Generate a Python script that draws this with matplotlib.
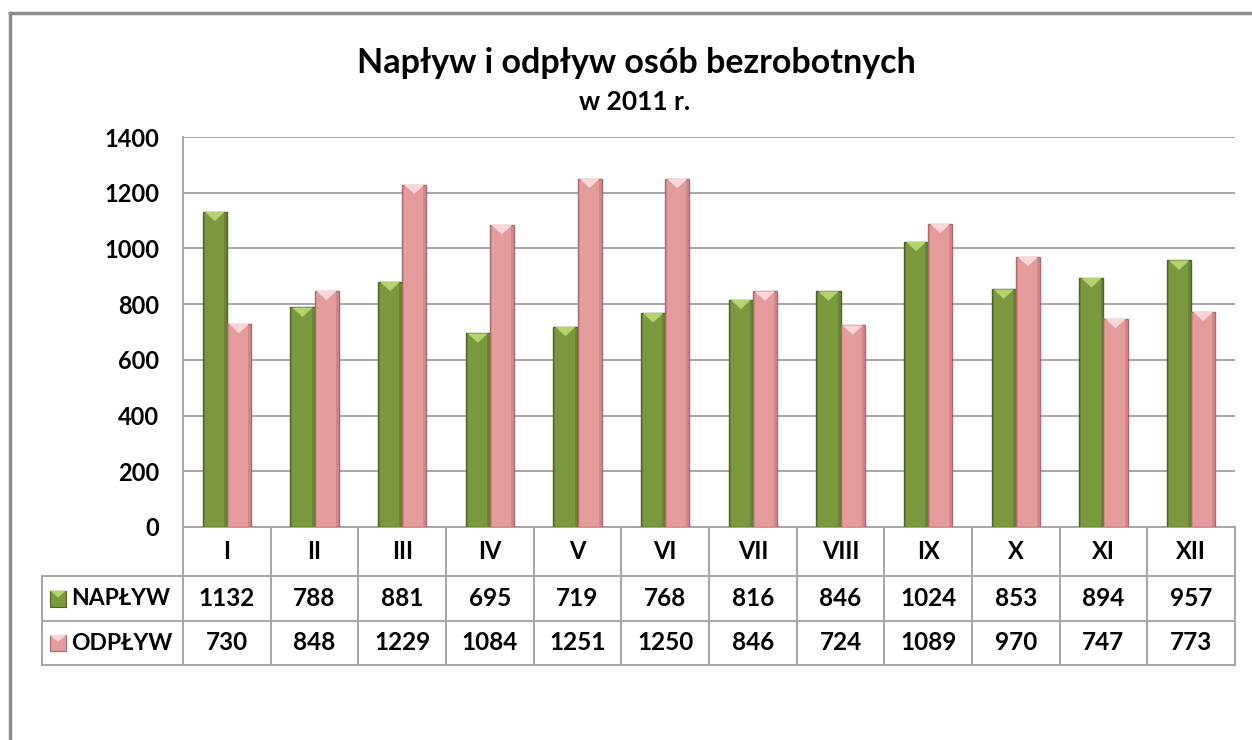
import matplotlib
matplotlib.use("Agg")
import matplotlib.pyplot as plt
import matplotlib.transforms as mtransforms
from matplotlib.patches import Rectangle, Polygon
from matplotlib.lines import Line2D

plt.rcParams['font.family'] = ['Lato', 'DejaVu Sans']
plt.rcParams['font.weight'] = 'bold'

# data
months = ['I', 'II', 'III', 'IV', 'V', 'VI', 'VII', 'VIII', 'IX', 'X', 'XI', 'XII']
naplyw = [1132, 788, 881, 695, 719, 768, 816, 846, 1024, 853, 894, 957]
odplyw = [730, 848, 1229, 1084, 1251, 1250, 846, 724, 1089, 970, 747, 773]
series_names = ['NAPŁYW', 'ODPŁYW']
yticks = [0, 200, 400, 600, 800, 1000, 1200, 1400]

W, H = 1252, 740
fig = plt.figure(figsize=(W / 100, H / 100), dpi=100)
fig.patch.set_facecolor('white')

# plot area in pixels
L, R, T, B = 183, 1235, 137, 527
ax = fig.add_axes([L / W, 1 - B / H, (R - L) / W, (B - T) / H])

green, green_edge, green_top = '#7A983E', '#4F6228', '#B4D46E'
pink, pink_edge, pink_top = '#E49B9C', '#A86A6A', '#FAD6D6'
colors = [(green, green_edge, green_top), (pink, pink_edge, pink_top)]

x = list(range(len(months)))
bw = 0.275
for k, vals in enumerate([naplyw, odplyw]):
    fc, ec, tc = colors[k]
    offs = [xi - bw + k * bw for xi in x]
    bars = ax.bar(offs, vals, width=bw, align='edge', color=fc,
                  edgecolor=ec, linewidth=1.0, zorder=3)
    for b in bars:
        x0, w, h = b.get_x(), b.get_width(), b.get_height()
        d = 34
        ax.add_patch(Polygon([(x0 + 0.02, h), (x0 + w - 0.02, h), (x0 + w / 2, h - d)],
                             closed=True, facecolor=tc, edgecolor='none', zorder=4))
        # darker side strips for a bevel look
        ax.add_patch(Rectangle((x0 + w * 0.88, 0), w * 0.12, h, facecolor=ec,
                               alpha=0.35, edgecolor='none', zorder=4))
        ax.add_patch(Rectangle((x0, 0), w * 0.08, h, facecolor=ec,
                               alpha=0.25, edgecolor='none', zorder=4))

ax.set_xlim(-0.5, len(months) - 0.5)
ax.set_ylim(0, 1400)
ax.set_yticks(yticks)
ax.set_xticks([])
ax.tick_params(axis='y', length=0, pad=17, labelsize=17)
for lab in ax.get_yticklabels():
    lab.set_fontweight('bold')
ax.grid(axis='y', color='#A6A6A6', linewidth=1.4, zorder=0)
ax.set_axisbelow(True)
for s in ['top', 'right', 'bottom']:
    ax.spines[s].set_visible(False)
ax.spines['left'].set_color('#A6A6A6')
ax.spines['left'].set_linewidth(1.4)

# data table below the axis
ah = B - T
def yf(py):
    return (B - py) / ah
def xf(px):
    return (px - L) / (R - L)

trans = mtransforms.blended_transform_factory(ax.transData, ax.transAxes)
lc, lw = '#A6A6A6', 1.4
y_hdr, y_r1, y_r2 = 576, 621, 665

def hline(x0, x1, y):
    ax.add_line(Line2D([x0, x1], [yf(y), yf(y)], transform=ax.transAxes,
                       color=lc, lw=lw, clip_on=False))

def vline(xa, y0, y1, tr):
    ax.add_line(Line2D([xa, xa], [yf(y0), yf(y1)], transform=tr,
                       color=lc, lw=lw, clip_on=False))

hline(0, 1, B)
for y in (y_hdr, y_r1, y_r2):
    hline(xf(42), 1, y)
vline(xf(42), y_hdr, y_r2, ax.transAxes)
vline(0, B, y_r2, ax.transAxes)
for i in range(1, len(months) + 1):
    vline(i - 0.5, B, y_r2, trans)

for i, m in enumerate(months):
    ax.text(i, yf((B + y_hdr) / 2), m, transform=trans, ha='center', va='center',
            fontsize=17, fontweight='bold', color='black')
for r, (vals, yc) in enumerate([(naplyw, (y_hdr + y_r1) / 2), (odplyw, (y_r1 + y_r2) / 2)]):
    for i, v in enumerate(vals):
        ax.text(i, yf(yc), str(v), transform=trans, ha='center', va='center',
                fontsize=17.5, fontweight='bold', color='black')
    fc, ec, tc = colors[r]
    kx, ks = xf(50), 16
    ax.add_patch(Rectangle((kx, yf(yc + ks / 2)), xf(50 + ks) - kx, ks / ah,
                           transform=ax.transAxes, facecolor=fc, edgecolor=ec,
                           lw=0.8, clip_on=False))
    ax.add_patch(Polygon([(kx, yf(yc - ks / 2)), (xf(50 + ks), yf(yc - ks / 2)),
                          (xf(50 + ks / 2), yf(yc - 1))], closed=True,
                         transform=ax.transAxes, facecolor=tc, edgecolor='none',
                         clip_on=False))
    ax.text(xf(71), yf(yc), series_names[r], transform=ax.transAxes, ha='left',
            va='center', fontsize=16.5, fontweight='bold', color='black')

# titles
fig.text(636 / W, 1 - 63 / H, 'Napływ i odpływ osób bezrobotnych', ha='center',
         va='center', fontsize=24.5, fontweight='bold')
fig.text(635 / W, 1 - 102 / H, 'w 2011 r.', ha='center', va='center',
         fontsize=19, fontweight='bold')

# outer frame (partially visible)
fig.add_artist(Line2D([10 / W, 1], [1 - 13 / H, 1 - 13 / H], transform=fig.transFigure,
                      color='#8C8C8C', lw=2.5))
fig.add_artist(Line2D([10 / W, 10 / W], [0, 1 - 13 / H], transform=fig.transFigure,
                      color='#8C8C8C', lw=2.5))

fig.savefig('out.png', dpi=100, facecolor='white')
